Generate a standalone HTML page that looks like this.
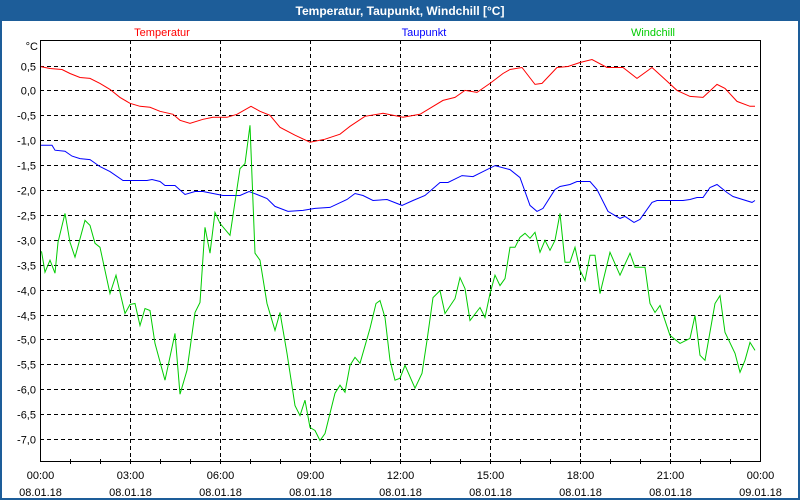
<!DOCTYPE html>
<html><head><meta charset="utf-8"><style>
body{margin:0;background:#fff;font-family:"Liberation Sans",sans-serif;}
#wrap{position:relative;width:800px;height:500px;overflow:hidden;}
</style></head><body>
<div id="wrap">
<svg id="chart" width="800" height="500" xmlns="http://www.w3.org/2000/svg" font-family="Liberation Sans, sans-serif">
<rect x="0" y="0" width="800" height="500" fill="#1d5d99"/>
<rect x="2" y="21" width="796" height="477" fill="#ffffff"/>
<text x="400" y="15" text-anchor="middle" fill="#fff" font-size="12" font-weight="bold">Temperatur, Taupunkt, Windchill [°C]</text>
<text x="162" y="36" text-anchor="middle" fill="#ff0000" font-size="11">Temperatur</text>
<text x="424" y="36" text-anchor="middle" fill="#0000ff" font-size="11">Taupunkt</text>
<text x="653" y="36" text-anchor="middle" fill="#00cc00" font-size="11">Windchill</text>
<text x="38" y="50" text-anchor="end" fill="#000" font-size="11">°C</text>
<g id="grid"></g><g id="series"></g><g id="axes"></g>
</svg>
</div>
<script>
const yTicks=[0.5,0,-0.5,-1,-1.5,-2,-2.5,-3,-3.5,-4,-4.5,-5,-5.5,-6,-6.5,-7];
const xTickHours=[0,3,6,9,12,15,18,21,24];
const xTickTimes=["00:00","03:00","06:00","09:00","12:00","15:00","18:00","21:00","00:00"];
const xTickDates=["08.01.18","08.01.18","08.01.18","08.01.18","08.01.18","08.01.18","08.01.18","08.01.18","09.01.18"];
const tempTimes=[0,20,44,60,80,100,120,140,160,180,200,220,240,266,280,300,326,346,374,394,422,440,460,480,510,540,570,600,620,650,686,726,760,806,830,850,874,900,926,940,964,990,1004,1034,1056,1080,1104,1134,1166,1194,1224,1246,1274,1300,1326,1354,1370,1394,1420,1430];
const tempValues=[0.48,0.44,0.42,0.34,0.26,0.24,0.14,0.02,-0.14,-0.26,-0.32,-0.34,-0.42,-0.48,-0.6,-0.66,-0.58,-0.54,-0.54,-0.48,-0.32,-0.42,-0.5,-0.74,-0.9,-1.04,-0.98,-0.88,-0.72,-0.52,-0.46,-0.54,-0.48,-0.2,-0.14,0,-0.04,0.14,0.34,0.42,0.46,0.12,0.14,0.46,0.48,0.56,0.62,0.46,0.46,0.24,0.46,0.26,0,-0.12,-0.14,0.12,0.04,-0.22,-0.32,-0.32];
const dewTimes=[0,24,30,50,64,80,100,120,140,166,214,224,240,250,270,290,310,326,346,366,400,418,434,454,470,496,526,550,580,614,630,646,666,694,724,746,770,800,816,844,866,910,940,960,980,994,1006,1030,1040,1060,1074,1100,1114,1136,1160,1170,1188,1200,1224,1234,1286,1300,1314,1326,1340,1354,1374,1386,1424,1430];
const dewValues=[-1.1,-1.1,-1.2,-1.22,-1.32,-1.37,-1.39,-1.53,-1.63,-1.81,-1.81,-1.79,-1.83,-1.91,-1.91,-2.09,-2.03,-2.03,-2.07,-2.11,-2.11,-2.03,-2.09,-2.17,-2.33,-2.43,-2.41,-2.37,-2.35,-2.19,-2.07,-2.11,-2.21,-2.19,-2.31,-2.21,-2.11,-1.85,-1.85,-1.71,-1.73,-1.51,-1.59,-1.75,-2.31,-2.43,-2.37,-1.99,-1.93,-1.89,-1.83,-1.83,-1.99,-2.43,-2.57,-2.53,-2.65,-2.59,-2.25,-2.21,-2.21,-2.19,-2.15,-2.15,-1.95,-1.89,-2.05,-2.13,-2.25,-2.21];
const windTimes=[3,10,20,30,36,50,60,70,90,100,110,120,140,152,170,180,190,200,210,220,230,250,270,280,294,310,320,330,340,350,360,380,400,410,420,430,440,454,470,480,494,510,520,530,540,550,560,570,590,600,610,620,630,640,660,672,680,690,700,710,720,730,750,764,774,786,800,810,830,840,850,860,880,890,900,910,920,930,940,950,960,970,980,990,1000,1010,1020,1030,1040,1050,1060,1070,1080,1090,1100,1110,1120,1140,1160,1180,1190,1210,1220,1230,1240,1260,1280,1300,1310,1320,1330,1350,1360,1370,1390,1400,1410,1420,1430];
const windValues=[-3.23,-3.65,-3.41,-3.67,-3.05,-2.47,-3.05,-3.35,-2.61,-2.71,-3.07,-3.15,-4.08,-3.71,-4.48,-4.30,-4.28,-4.72,-4.38,-4.42,-5.08,-5.82,-4.88,-6.10,-5.62,-4.46,-4.26,-2.75,-3.27,-2.45,-2.67,-2.91,-1.57,-1.47,-0.70,-3.27,-3.41,-4.28,-4.82,-4.46,-5.28,-6.33,-6.53,-6.22,-6.77,-6.83,-7.03,-6.89,-6.08,-5.92,-6.06,-5.52,-5.36,-5.48,-4.78,-4.28,-4.22,-4.56,-5.42,-5.82,-5.78,-5.52,-5.98,-5.68,-5.02,-4.16,-4.02,-4.48,-4.18,-3.76,-3.98,-4.62,-4.36,-4.56,-4.08,-3.71,-3.92,-3.78,-3.15,-3.15,-2.95,-2.87,-2.97,-2.85,-3.25,-3.01,-3.21,-3.01,-2.47,-3.45,-3.45,-3.15,-3.61,-3.82,-3.31,-3.31,-4.08,-3.25,-3.71,-3.27,-3.55,-3.55,-4.28,-4.46,-4.32,-4.92,-5.08,-4.98,-4.52,-5.32,-5.42,-4.28,-4.12,-4.86,-5.28,-5.66,-5.42,-5.06,-5.22];

const NS="http://www.w3.org/2000/svg";
const L=40,R=760,T=40,B=461;
const Y0=90.4,YS=49.8;
function xScale(min){return L+(min/1440)*(R-L);}
function yScale(v){return Y0-v*YS;}
function mk(tag,attrs,parent){const e=document.createElementNS(NS,tag);for(const k in attrs)e.setAttribute(k,attrs[k]);parent.appendChild(e);return e;}
const grid=document.getElementById('grid'),axes=document.getElementById('axes'),series=document.getElementById('series');
yTicks.forEach(v=>{
  const y=Math.round(yScale(v))+0.5;
  const g=mk('line',{x1:L,x2:R,y1:y,y2:y,stroke:'#000','stroke-dasharray':'4,3','stroke-width':1},grid);
  
  
  const t=mk('text',{x:36,y:y+4,'text-anchor':'end','font-size':11,fill:'#000'},axes);
  t.textContent=v.toFixed(1).replace('.',',');
  
  
});
xTickHours.forEach((h,i)=>{
  const x=Math.round(xScale(h*60))+0.5;
  if(h>0&&h<24){
    const g=mk('line',{x1:x,x2:x,y1:T,y2:B,stroke:'#000','stroke-dasharray':'4,3','stroke-width':1},grid);
    
    
  }
  const t1=mk('text',{x:x,y:479,'text-anchor':'middle','font-size':11,fill:'#000'},axes);
  t1.textContent=xTickTimes[i];
  
  
  const t2=mk('text',{x:x,y:496,'text-anchor':'middle','font-size':11,fill:'#000'},axes);
  t2.textContent=xTickDates[i];
  
  
});
for(let h=1;h<24;h++){
  const x=Math.round(xScale(h*60))+0.5;
  const m=mk('line',{x1:x,x2:x,y1:B-2,y2:B+3,stroke:'#000'},axes);
  
  
}
const frame=mk('rect',{x:L+0.5,y:T+0.5,width:R-L,height:B-T,fill:'none',stroke:'#000','stroke-width':1},axes);


function drawLine(times,vals,color,name){
  const pts=times.map((t,i)=>xScale(t).toFixed(1)+','+yScale(vals[i]).toFixed(1)).join(' ');
  const p=mk('polyline',{points:pts,fill:'none',stroke:color,'stroke-width':1},series);
  
  
}
drawLine(tempTimes,tempValues,'#ff0000','temperatur-line');
drawLine(dewTimes,dewValues,'#0000ff','taupunkt-line');
drawLine(windTimes,windValues,'#00cc00','windchill-line');
</script>
</body></html>
